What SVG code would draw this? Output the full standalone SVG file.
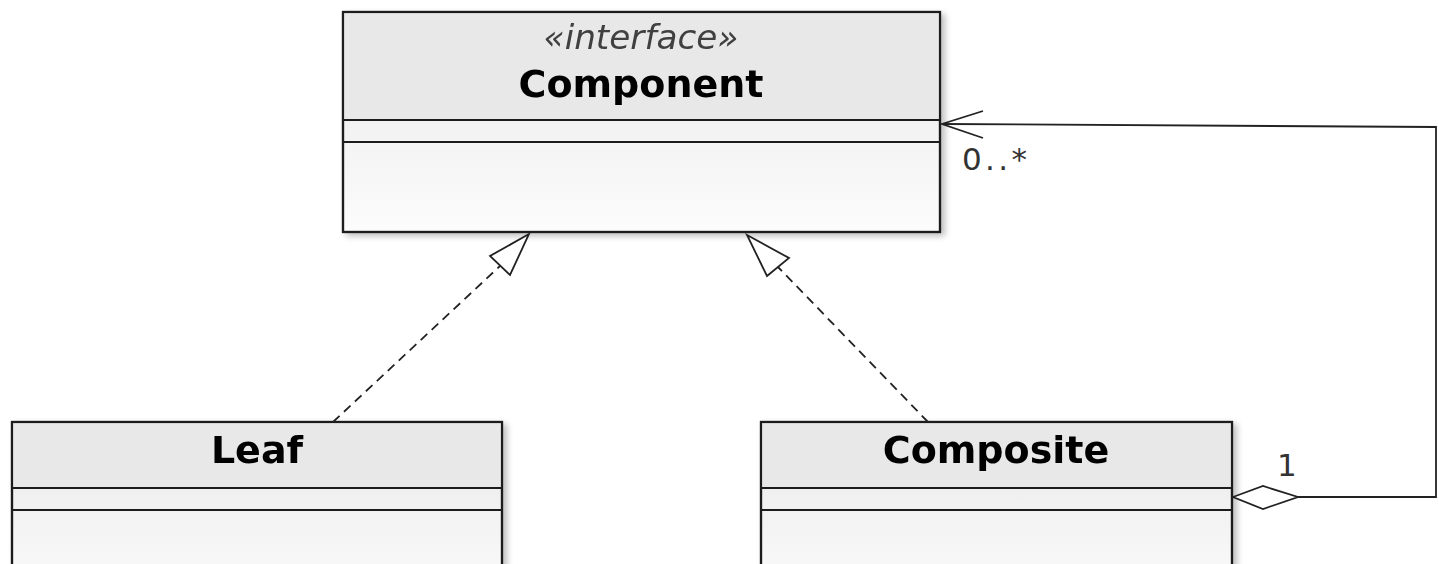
<svg xmlns="http://www.w3.org/2000/svg" width="1439" height="564" viewBox="0 0 1439 564">
  <defs>
    <linearGradient id="fillLow" x1="0" y1="0" x2="0" y2="1">
      <stop offset="0" stop-color="#e8e8e8"/>
      <stop offset="1" stop-color="#fcfcfc"/>
    </linearGradient>
    <filter id="shadow" x="-5%" y="-5%" width="115%" height="115%">
      <feGaussianBlur in="SourceAlpha" stdDeviation="3"/>
      <feOffset dx="4" dy="3" result="b"/>
      <feComponentTransfer><feFuncA type="linear" slope="0.25"/></feComponentTransfer>
      <feMerge><feMergeNode/><feMergeNode in="SourceGraphic"/></feMerge>
    </filter>
  </defs>
  <style>
    .box { stroke: #1e1e1e; stroke-width: 2.2; }
    .div { stroke: #1e1e1e; stroke-width: 2; fill: none; }
    .name { font-family: "DejaVu Sans", Verdana, sans-serif; font-weight: bold; font-size: 38px; fill: #000; text-anchor: middle; }
    .stereo { font-family: "DejaVu Sans", Verdana, sans-serif; font-style: italic; font-size: 33px; fill: #404040; text-anchor: middle; }
    .mult { font-family: "DejaVu Sans", Verdana, sans-serif; font-size: 31px; fill: #333; }
    .conn { stroke: #222; stroke-width: 1.8; fill: none; }
    .dash { stroke-dasharray: 9 6; }
    .head { stroke: #222; stroke-width: 1.8; fill: #fff; stroke-linejoin: miter; }
  </style>

  <g id="node-component" filter="url(#shadow)">
    <rect class="box" x="343" y="12" width="597" height="220" fill="url(#fillLow)"/>
    <rect x="344" y="13" width="595" height="107" fill="#e8e8e8"/>
    <line class="div" x1="343" y1="120" x2="940" y2="120"/>
    <line class="div" x1="343" y1="142" x2="940" y2="142"/>
    <rect class="box" x="343" y="12" width="597" height="220" fill="none"/>
    <text class="stereo" x="641" y="49" textLength="195" lengthAdjust="spacingAndGlyphs">«interface»</text>
    <text class="name" x="641" y="97">Component</text>
  </g>

  <g id="node-leaf" filter="url(#shadow)">
    <rect class="box" x="12" y="422" width="490" height="180" fill="url(#fillLow)"/>
    <rect x="13" y="423" width="488" height="65" fill="#e8e8e8"/>
    <line class="div" x1="12" y1="488" x2="502" y2="488"/>
    <line class="div" x1="12" y1="510" x2="502" y2="510"/>
    <rect class="box" x="12" y="422" width="490" height="180" fill="none"/>
    <text class="name" x="257" y="463">Leaf</text>
  </g>

  <g id="node-composite" filter="url(#shadow)">
    <rect class="box" x="761" y="422" width="471" height="180" fill="url(#fillLow)"/>
    <rect x="762" y="423" width="469" height="65" fill="#e8e8e8"/>
    <line class="div" x1="761" y1="488" x2="1232" y2="488"/>
    <line class="div" x1="761" y1="510" x2="1232" y2="510"/>
    <rect class="box" x="761" y="422" width="471" height="180" fill="none"/>
    <text class="name" x="996" y="463">Composite</text>
  </g>

  <g id="connectors">
    <!-- Leaf realizes Component -->
    <line class="conn dash" x1="333" y1="422" x2="500" y2="266"/>
    <polygon class="head" points="529,234 490,256 510,275"/>
    <!-- Composite realizes Component -->
    <line class="conn dash" x1="928" y1="422" x2="778" y2="267"/>
    <polygon class="head" points="747,235 789,258 767,276"/>
    <!-- Aggregation Composite -> Component -->
    <polyline class="conn" points="1298,497 1436,497 1436,127 942,124"/>
    <polygon class="head" points="1233,497 1263,486 1298,497 1263,509"/>
    <polyline class="conn" points="983,111 942,124 983,138"/>
    <text class="mult" x="962" y="170" textLength="65" lengthAdjust="spacing">0..*</text>
    <text class="mult" x="1277" y="476">1</text>
  </g>
</svg>
